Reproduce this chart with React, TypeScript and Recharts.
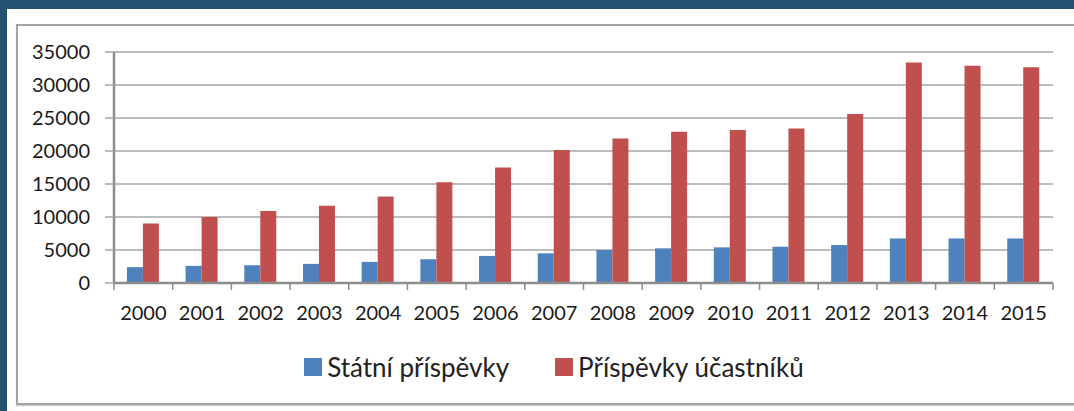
import React from "react";
import { BarChart, Bar, XAxis, YAxis, CartesianGrid, Legend } from "recharts";

const years = ["2000", "2001", "2002", "2003", "2004", "2005", "2006", "2007", "2008", "2009", "2010", "2011", "2012", "2013", "2014", "2015"];
const statniPrispevky = [2400, 2600, 2700, 2900, 3200, 3600, 4100, 4500, 5000, 5250, 5400, 5500, 5750, 6750, 6750, 6750];
const prispevkyUcastniku = [9000, 10000, 10900, 11700, 13100, 15250, 17500, 20150, 21900, 22900, 23200, 23400, 25600, 33400, 32900, 32700];
const yTicks = [0, 5000, 10000, 15000, 20000, 25000, 30000, 35000];
const seriesOrder = ["statni", "ucastniku"];

const data = years.map((y, i) => ({ year: y, statni: statniPrispevky[i], ucastniku: prispevkyUcastniku[i] }));

const FONT = "Lato, 'Open Sans', sans-serif";
const BLUE = "#4f81bd";
const RED = "#c0504d";
const AXIS = "#8c8c8c";
const X_TICK_SIZE = 5;
const X_TICK_MARGIN = 18;

const LegendContent = (props: any) => {
  const items = [...(props.payload || [])].sort(
    (a: any, b: any) => seriesOrder.indexOf(a.dataKey) - seriesOrder.indexOf(b.dataKey)
  );
  return (
    <div style={{ display: "flex", justifyContent: "center", alignItems: "center", height: 28, paddingLeft: 55, fontFamily: FONT, fontSize: 26, color: "#222" }}>
      {items.map((it: any, i: number) => (
        <div key={i} style={{ display: "flex", alignItems: "center", marginRight: i === 0 ? 46 : 0 }}>
          <span style={{ display: "inline-block", width: 18, height: 18, background: it.color, marginRight: 5 }} />
          <span>{it.value}</span>
        </div>
      ))}
    </div>
  );
};

const YearTick = (props: any) => {
  const { x, y, payload, index, visibleTicksCount } = props;
  const off = payload.offset || 0;
  const axisY = y - X_TICK_SIZE - X_TICK_MARGIN;
  const isLast = index === visibleTicksCount - 1;
  return (
    <g>
      <line x1={x - off} x2={x - off} y1={axisY} y2={axisY + 7} stroke={AXIS} strokeWidth={1.5} />
      {isLast && <line x1={x + off} x2={x + off} y1={axisY} y2={axisY + 7} stroke={AXIS} strokeWidth={1.5} />}
      <text x={x} y={y} dy="0.71em" textAnchor="middle" fill="#1a1a1a" fontFamily={FONT} fontSize={20}>
        {payload.value}
      </text>
    </g>
  );
};

export default function App() {
  return (
    <div style={{ position: "fixed", left: 0, top: 0, width: 1074, height: 411, background: "#245170", overflow: "hidden" }}>
      <div style={{ position: "absolute", left: 7, top: 9, width: 1080, height: 410, background: "#ffffff" }} />
      <div style={{ position: "absolute", left: 16, top: 24, width: 1080, height: 377, border: "2px solid #a3a3a3", boxShadow: "0 1px 1px #d0d0d0" }} />
      <div style={{ position: "absolute", left: 0, top: 0 }}>
        <BarChart
          width={1074}
          height={411}
          data={data}
          margin={{ top: 52, right: 21, left: 0, bottom: 30 }}
          barCategoryGap="22%"
          barGap={0}
        >
          <CartesianGrid vertical={false} stroke="#a6a6a6" strokeWidth={1.5} />
          <XAxis
            dataKey="year"
            height={70}
            axisLine={{ stroke: AXIS, strokeWidth: 2.5 }}
            tickLine={false}
            tickSize={X_TICK_SIZE}
            tickMargin={X_TICK_MARGIN}
            interval={0}
            tick={<YearTick />}
          />
          <YAxis
            width={114}
            domain={[0, 35000]}
            ticks={yTicks}
            interval={0}
            tickSize={9}
            tickMargin={15}
            axisLine={{ stroke: AXIS, strokeWidth: 2.5 }}
            tickLine={{ stroke: "#a6a6a6", strokeWidth: 1.5 }}
            tick={{ fill: "#1a1a1a", fontFamily: FONT, fontSize: 20 }}
          />
          <Legend verticalAlign="bottom" content={<LegendContent />} />
          <Bar dataKey="statni" name="Státní příspěvky" fill={BLUE} isAnimationActive={false} />
          <Bar dataKey="ucastniku" name="Příspěvky účastníků" fill={RED} isAnimationActive={false} />
        </BarChart>
      </div>
    </div>
  );
}
